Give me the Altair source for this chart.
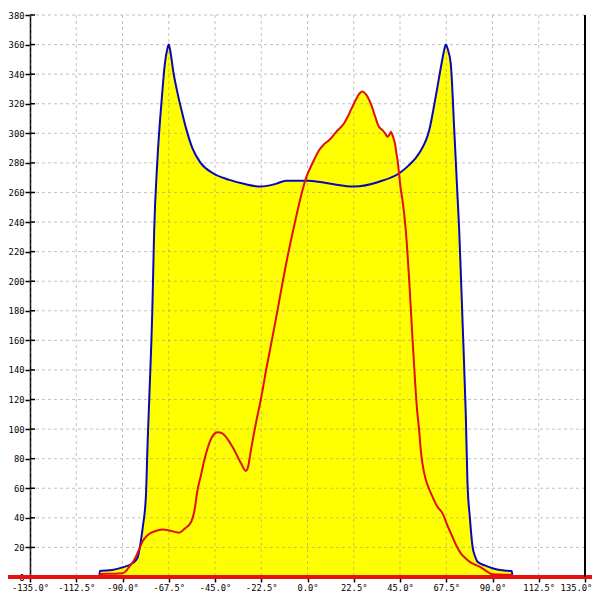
import altair as alt
import pandas as pd

# Blue series (degrees, value)
blue_x = [-101.3, -101.0, -95, -90, -85, -82.7, -81, -80, -78.6, -77.8, -77, -75.5, -74.6, -73.1,
          -70.8, -69.4, -68.2, -67.5, -66.8, -65.2, -63.2, -61, -59, -56, -52, -46,
          -38, -30, -22.7, -15, -10.5, 0.8, 10.6, 22.7, 34.9, 44.6, 49, 54.3, 59.2, 62.4, 65.2,
          66.6, 67.3, 68.2, 69.7, 71.4, 73, 73.8, 75.5, 77, 77.8, 79, 80.3, 81.5, 82.7, 86, 90,
          94.7, 99.4, 99.7]
blue_y = [0, 4, 4.7, 6.5, 9.5, 13, 25, 35, 55, 90, 120, 180, 234, 280,
          325, 347, 357, 360, 356, 341, 327, 314, 303, 290, 280, 273,
          268.5, 265.5, 264, 266, 268, 268, 266, 264, 267.3, 273, 278, 286.5, 302, 325, 347,
          357, 360, 357, 347, 302, 257, 234.6, 170, 110, 65, 40, 20.5, 14, 10.3, 8, 5.9,
          4.5, 4, 0]

# Red series (degrees, value)
red_x = [-101.3, -100.5, -95, -90, -88, -86.8, -85, -83.5, -81.8, -80.3, -78, -76.2, -73, -70.5,
         -67.3, -64.5, -62.4, -59.5, -56.7, -55, -53.5, -51.8, -50.2, -47.8, -45.5, -43.8, -42,
         -40.5, -36.5, -32.4, -30, -29, -27.5, -25.1, -22.7, -20, -17, -14.5, -12.2, -9.8, -7.3,
         -4.8, -2.4, -0.4, 1.6, 3.5, 5.7, 8, 10.6, 14, 17.8, 19.5, 21.1, 22.7, 24.3, 25.5, 26.8,
         28, 29.2, 30.5, 31.6, 33, 34, 35, 36.5, 38, 38.9, 40, 40.6, 41.3, 42, 42.7, 43.3, 43.8,
         44.6, 45.4, 46.2, 47.8, 49.5, 51, 52.3, 53.3, 54.3, 55.1, 55.9, 57.6, 59, 60.8, 63, 65.7,
         68, 70.5, 72.5, 74.6, 77, 79.5, 82, 84.3, 86, 87.5, 89, 90, 95, 99.4, 99.7]
red_y = [0, 2, 2.2, 2.5, 4.5, 6.8, 10, 13.7, 19, 24, 28, 29.8, 31.5, 32.2,
         31.5, 30.5, 30, 33, 37, 45, 58.8, 69, 79, 90.4, 96.5, 97.8, 97.5,
         96, 88, 77, 71.7, 74, 86, 104, 120, 141, 162.5, 181, 198.6, 216, 232.4,
         248, 261.7, 271, 277.4, 283, 288.7, 292.5, 295.5, 301, 306.8, 311, 315.8, 320.5, 324.8, 327.3, 328.2,
         327, 324.8, 321, 317, 311, 306.8, 304, 302.2, 299.5, 297.7, 299.5, 301, 298.9, 296, 292, 286, 282,
         272, 262, 255, 234.6, 200, 163, 133, 113, 99.4, 86, 76.9, 65.6, 60, 54.3, 48, 43,
         35, 27.2, 21, 16, 12.5, 9.7, 8, 6.5, 5, 3.6, 2.3, 1.8, 1.6, 1.5, 0]

x_ticks = [-135, -112.5, -90, -67.5, -45, -22.5, 0, 22.5, 45, 67.5, 90, 112.5, 135]
y_ticks = [0, 20, 40, 60, 80, 100, 120, 140, 160, 180, 200, 220, 240, 260, 280, 300, 320, 340, 360, 380]

W, H = 555, 562

blue_df = pd.DataFrame({"x": blue_x, "y": blue_y})
red_df = pd.DataFrame({"x": red_x, "y": red_y})
xt_df = pd.DataFrame({"x": x_ticks})
yt_df = pd.DataFrame({"y": y_ticks})

xscale = alt.Scale(domain=[-135, 135], nice=False, zero=False)
yscale = alt.Scale(domain=[0, 380], nice=False, zero=False)

FONT = "DejaVu Sans Mono"

x_axis = alt.Axis(values=x_ticks, title=None, domain=False, tickSize=5, tickColor="black",
                  tickWidth=1.5, grid=False, labelFlush=False, labelOverlap=False,
                  labelExpr="(datum.value < 0 ? '-' : '') + format(abs(datum.value), '.1f') + '°'",
                  labelOffset={"condition": {"test": "datum.value >= 135", "value": -9}, "value": 0},
                  labelFont=FONT, labelFontSize=8.8, labelColor="black", labelPadding=1)
y_axis = alt.Axis(values=y_ticks, title=None, domainColor="black", domainWidth=1.5,
                  tickSize=5, tickColor="black", tickWidth=1.5, grid=False, format="d",
                  labelFont=FONT, labelFontSize=8.8, labelColor="black", labelPadding=1,
                  labelOverlap=False)

X = alt.X("x:Q", scale=xscale, axis=x_axis)
Y = alt.Y("y:Q", scale=yscale, axis=y_axis)

blue_area = alt.Chart(blue_df).mark_area(color="#ffff00", opacity=1, interpolate="monotone").encode(x=X, y=Y)
red_area = alt.Chart(red_df).mark_area(color="#ffff00", opacity=1, interpolate="monotone").encode(x=X, y=Y)

grid_style = dict(color="#999999", opacity=0.6, strokeDash=[3, 3], strokeWidth=1)
x_grid = alt.Chart(xt_df).mark_rule(**grid_style).encode(
    x=X, y=alt.value(0), y2=alt.value(H),
)
y_grid = alt.Chart(yt_df).mark_rule(**grid_style).encode(
    y=Y, x=alt.value(0), x2=alt.value(W),
)
y_inner_ticks = alt.Chart(yt_df).mark_rule(color="black", strokeWidth=1.5).encode(
    y=Y, x=alt.value(0), x2=alt.value(5),
)

blue_line = alt.Chart(blue_df).mark_line(color="#0808b8", strokeWidth=2, interpolate="monotone").encode(x=X, y=Y)
red_line = alt.Chart(red_df).mark_line(color="#e01010", strokeWidth=2, interpolate="monotone").encode(x=X, y=Y)

zero_rule = alt.Chart(yt_df).mark_rule(color="#e81010", strokeWidth=3).encode(
    y=alt.datum(0, scale=yscale, axis=y_axis),
    x=alt.value(-22), x2=alt.value(W + 7),
)
right_border = alt.Chart(yt_df).mark_rule(color="black", strokeWidth=1.5).encode(
    x=alt.value(W), y=alt.value(0), y2=alt.value(H),
)

chart = alt.layer(
    blue_area, red_area, x_grid, y_grid, y_inner_ticks, blue_line, red_line, zero_rule, right_border
).properties(
    width=W, height=H,
    autosize=alt.AutoSizeParams(type="none"),
    padding={"left": 22, "top": 7, "right": 7, "bottom": 15},
    background="white",
).configure_view(stroke=None)

chart.save("out.html", embed_options={"renderer": "svg", "actions": False})
